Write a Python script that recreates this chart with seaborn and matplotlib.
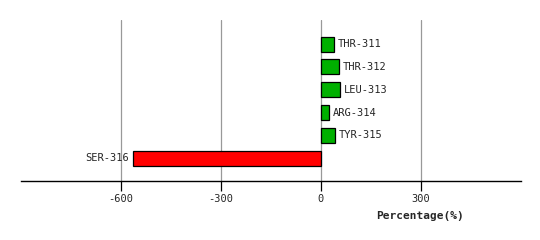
import matplotlib
matplotlib.use("Agg")
import matplotlib.pyplot as plt
import seaborn as sns
import pandas as pd

residues = ["THR-311", "THR-312", "LEU-313", "ARG-314", "TYR-315", "SER-316"]
values = [40, 55, 58, 24, 43, -563]
colors = ["#00b000" if v >= 0 else "#ff0000" for v in values]
xticks = [-600, -300, 0, 300]

sns.set_style("white")
plt.rcParams["font.family"] = ["DejaVu Sans Mono", "DejaVu Sans"]
plt.rcParams["axes.unicode_minus"] = False

df = pd.DataFrame({"res": residues, "val": values})
fig = plt.figure(figsize=(5.4, 2.4), dpi=100)
ax = fig.add_axes([20.7/540, 1-180.5/240, (521-20.7)/540, 160.5/240])

for x in xticks:
    ax.axvline(x, color="#999999", lw=0.9, zorder=0)

sns.barplot(data=df, x="val", y="res", hue="res", palette=colors, legend=False,
            orient="h", width=0.66, edgecolor="black", linewidth=0.9,
            saturation=1, ax=ax, zorder=2)

ax.set_xlim(-900, 600)
ax.set_ylim(5.98, -1.06)
for i, (r, v) in enumerate(zip(residues, values)):
    if v >= 0:
        ax.text(v + 12, i, r, va="center", ha="left", fontsize=7.5)
    else:
        ax.text(v - 12, i, r, va="center", ha="right", fontsize=7.5)

ax.set_xticks(xticks)
ax.set_xticklabels([str(t) for t in xticks], fontsize=7.5)
ax.set_yticks([])
ax.set_ylabel("")
ax.set_xlabel("Percentage(%)", fontsize=8, fontweight="bold")
ax.xaxis.set_label_coords((420 - 20.7) / (521 - 20.7), -0.19)
ax.tick_params(axis="x", length=7, width=0.9, color="black", pad=3, bottom=True)
for s in ["top", "right", "left"]:
    ax.spines[s].set_visible(False)
ax.spines["bottom"].set_color("black")
ax.spines["bottom"].set_linewidth(1.0)

fig.savefig("out.png", dpi=100)
